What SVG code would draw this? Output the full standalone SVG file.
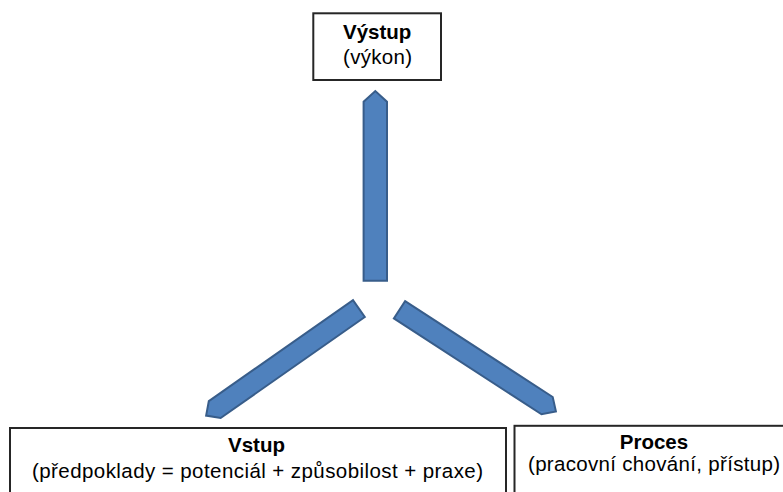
<svg xmlns="http://www.w3.org/2000/svg" width="783" height="492" viewBox="0 0 783 492">
  <style>
    .box { fill: #ffffff; stroke: #262626; stroke-width: 2; }
    .arrow { fill: #4f81bd; stroke: #385d8a; stroke-width: 2; stroke-linejoin: miter; }
    text { font-family: "Liberation Sans", Arial, sans-serif; font-size: 20.5px; fill: #000000; text-anchor: middle; }
    .title { font-weight: bold; }
  </style>

  <g id="connectors">
    <!-- up arrow: from the hub to Výstup -->
    <g transform="translate(375.3,280.7) rotate(-90)">
      <polygon class="arrow" points="0,-11.7 179,-11.7 189.7,0 179,11.7 0,11.7"/>
    </g>
    <!-- down-left arrow: hub to Vstup -->
    <g transform="translate(358.9,308.6) rotate(145)">
      <polygon class="arrow" points="0,-10.3 176,-10.3 186.5,0 176,10.3 0,10.3"/>
    </g>
    <!-- down-right arrow: hub to Proces -->
    <g transform="translate(399.5,309.8) rotate(33)">
      <polygon class="arrow" points="0,-10.3 176,-10.3 186.5,0 176,10.3 0,10.3"/>
    </g>
  </g>

  <g id="vystup">
    <rect class="box" x="313.3" y="13.3" width="127.7" height="66.7"/>
    <text class="title" x="377.2" y="38.5">Výstup</text>
    <text x="377.5" y="64" textLength="69" lengthAdjust="spacing">(výkon)</text>
  </g>

  <g id="vstup">
    <rect class="box" x="10" y="428" width="496" height="80"/>
    <text class="title" x="256.5" y="452">Vstup</text>
    <text x="257.5" y="477.5" textLength="451" lengthAdjust="spacing">(předpoklady = potenciál + způsobilost + praxe)</text>
  </g>

  <g id="proces">
    <rect class="box" x="514.5" y="425.8" width="290" height="80"/>
    <text class="title" x="654" y="448.5">Proces</text>
    <text x="654" y="471" textLength="252" lengthAdjust="spacing">(pracovní chování, přístup)</text>
  </g>
</svg>
